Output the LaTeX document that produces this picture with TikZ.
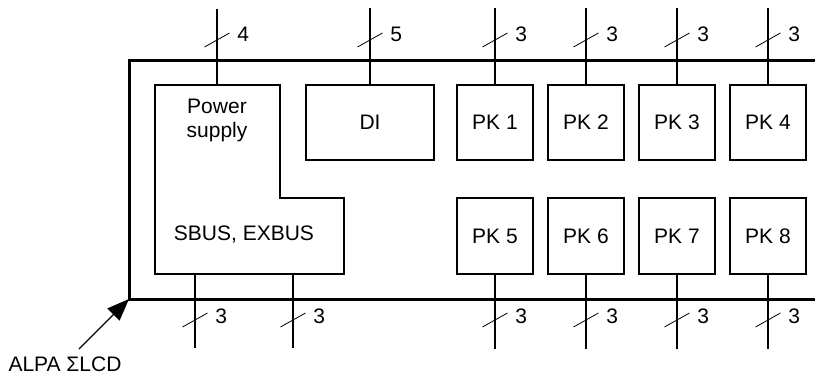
\documentclass[tikz,border=0pt]{standalone}
\usepackage{fontspec}
\setmainfont{Liberation Sans}
\usetikzlibrary{arrows.meta}
\tikzset{
  unit/.style={draw,line width=0.55pt,minimum width=38pt,minimum height=37.5pt,inner sep=0pt},
  frame/.style={line width=1.5pt},
  wire/.style={line width=0.65pt},
  slash/.style={line width=0.4pt},
  count/.style={anchor=west,inner sep=0pt}
}
\begin{document}
\begin{tikzpicture}[x=0.5pt,y=-0.5pt,font=\fontsize{10.5}{12}\selectfont]
\useasboundingbox (0,0) rectangle (815,376);
% case, open on the right
\draw[frame] (815,60) -- (129,60) -- (129,299) coordinate (corner) -- (815,299);
% power supply / bus board
\draw[line width=0.55pt] (155,85) -- (280,85) -- (280,198) -- (344,198) -- (344,274) -- (155,274) -- cycle;
\node[align=center,anchor=north,inner sep=0pt] (psu) at (217,99) {Power\\supply};
\node[anchor=base,inner sep=0pt] (bus) at (244,240) {SBUS, EXBUS};
\coordinate (psuin) at (217,85);
\coordinate (busa) at (195,274);
\coordinate (busb) at (293,274);
\node[unit,minimum width=64pt] (di) at (370,122.5) {DI};
\foreach \i/\j in {1/5,2/6,3/7,4/8}{
  \node[unit] (pk\i) at (404+91*\i,122.5) {PK \i};
  \node[unit,minimum height=38pt] (pk\j) at (404+91*\i,236) {PK \j};
}
% inputs on top
\foreach \a/\n [count=\k] in {psuin/4,di.north/5,pk1.north/3,pk2.north/3,pk3.north/3,pk4.north/3}{
  \path (\a) ++(0,-76) coordinate (top\k);
  \draw[wire] (\a) -- (top\k);
  \path (\a |- 0,40) coordinate (topmid\k);
  \draw[slash,shift={(topmid\k)}] (-12.5,7) -- (12.5,-7);
  \node[count] (topn\k) at ([xshift=10pt,yshift=2.75pt]topmid\k) {\n};
}
% outputs at the bottom
\foreach \a [count=\k] in {busa,busb,pk5.south,pk6.south,pk7.south,pk8.south}{
  \path (\a) ++(0,74) coordinate (bot\k);
  \draw[wire] (\a) -- (bot\k);
  \path (\a |- 0,320) coordinate (botmid\k);
  \draw[slash,shift={(botmid\k)}] (-12.5,7) -- (12.5,-7);
  \node[count] (botn\k) at ([xshift=10pt,yshift=1.75pt]botmid\k) {3};
}
\node[inner sep=0pt] (alpa) at (65,364) {ALPA ΣLCD};
\coordinate (alpatail) at (79,349);
\draw[wire,-{Triangle[length=11pt,width=8.5pt]}] (alpatail) -- (corner);
\end{tikzpicture}
\end{document}
